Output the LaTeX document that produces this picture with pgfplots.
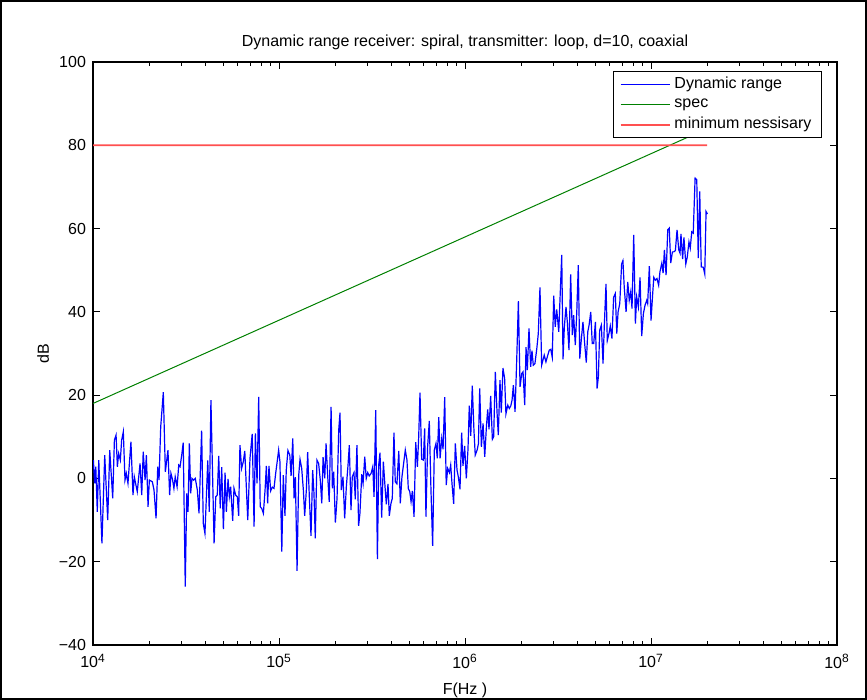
\documentclass[border=0pt]{standalone}
\usepackage{fontspec}
\setmainfont{Liberation Sans}
\usepackage{pgfplots}
\pgfplotsset{compat=1.18}
\usepackage{pgfplotstable}

% e = log10(frequency in Hz), db = dynamic range in dB
\pgfplotstableread{
e db
4.002 4.4
4.009 -1.2
4.015 2.8
4.023 -8.0
4.031 4.4
4.048 -15.6
4.063 5.6
4.079 -10.0
4.090 6.8
4.106 -4.8
4.115 9.2
4.124 10.4
4.131 2.8
4.138 6.0
4.147 4.4
4.154 9.2
4.163 11.2
4.172 -0.4
4.179 1.2
4.188 -1.2
4.204 8.8
4.215 -4.0
4.222 0.4
4.238 -3.2
4.253 3.6
4.262 -4.0
4.270 6.4
4.280 -0.4
4.287 5.6
4.296 -6.8
4.303 -0.4
4.319 -0.8
4.328 -2.8
4.339 -9.6
4.348 2.8
4.355 -0.4
4.364 12.4
4.378 20.7
4.389 1.6
4.403 6.8
4.412 -4.0
4.419 1.2
4.428 -0.4
4.435 -2.4
4.442 0.4
4.452 -2.0
4.461 3.2
4.468 2.8
4.477 5.6
4.485 8.6
4.496 -26.0
4.504 -3.6
4.511 -8.0
4.518 8.4
4.525 -3.6
4.532 0.0
4.541 -0.4
4.550 0.0
4.561 -2.8
4.570 -8.4
4.584 11.5
4.593 -10.8
4.602 -13.2
4.617 4.3
4.625 -8.0
4.634 18.8
4.651 -15.6
4.660 -4.4
4.668 -4.0
4.676 5.4
4.684 -7.2
4.692 2.7
4.701 -12.2
4.710 1.4
4.717 -8.0
4.726 -0.1
4.733 -4.4
4.740 -2.0
4.751 -10.2
4.758 -2.4
4.767 -4.0
4.776 -4.4
4.783 -9.0
4.790 8.0
4.799 2.4
4.808 4.0
4.816 6.6
4.832 -10.0
4.844 4.8
4.856 10.7
4.866 -11.6
4.873 10.8
4.882 -1.2
4.891 19.6
4.899 -6.8
4.907 -7.2
4.916 -8.4
4.925 -2.8
4.932 3.0
4.939 -6.0
4.946 3.0
4.955 -3.0
4.964 -2.1
4.973 -2.4
4.982 1.2
4.989 3.6
4.998 6.8
5.005 4.0
5.015 -17.6
5.023 0.8
5.032 -9.0
5.039 2.0
5.048 6.7
5.058 5.6
5.065 0.6
5.074 9.6
5.081 -4.8
5.088 0.3
5.097 -22.2
5.106 0.8
5.113 4.6
5.122 2.4
5.131 -2.8
5.138 -9.0
5.147 -2.8
5.154 6.3
5.163 -4.4
5.172 -13.8
5.181 2.0
5.188 -3.6
5.195 -14.4
5.204 4.4
5.213 3.6
5.222 -0.4
5.230 -6.0
5.237 5.1
5.246 0.0
5.253 8.4
5.262 0.4
5.270 -5.6
5.280 17.2
5.287 -2.4
5.294 1.6
5.303 -10.6
5.312 -4.8
5.321 11.6
5.328 15.8
5.335 -2.8
5.344 0.4
5.353 -9.6
5.362 -2.0
5.371 3.2
5.378 8.0
5.387 -7.6
5.394 0.4
5.403 1.4
5.410 -5.0
5.419 8.0
5.428 -11.4
5.435 -8.4
5.445 1.0
5.452 -1.2
5.461 5.2
5.469 0.0
5.477 1.4
5.485 0.6
5.495 1.2
5.504 2.8
5.511 -4.4
5.520 16.4
5.529 -19.4
5.536 3.2
5.543 6.2
5.552 -9.4
5.561 4.0
5.570 -2.0
5.577 -6.2
5.586 -1.3
5.593 -9.0
5.602 -6.0
5.609 -4.8
5.618 11.0
5.625 -0.8
5.634 -1.3
5.644 6.6
5.652 -6.0
5.661 0.4
5.670 3.6
5.679 6.8
5.688 4.4
5.695 -2.4
5.703 -3.2
5.710 -5.6
5.717 -3.0
5.726 -9.2
5.735 8.7
5.744 2.8
5.751 10.0
5.758 20.6
5.767 4.6
5.776 4.4
5.783 12.0
5.790 -9.2
5.799 7.6
5.808 13.8
5.817 -2.8
5.826 -16.2
5.835 6.8
5.844 8.4
5.851 4.8
5.859 14.7
5.866 4.8
5.875 9.6
5.882 7.0
5.891 19.5
5.899 -1.6
5.907 2.4
5.916 1.4
5.923 3.2
5.930 -1.2
5.939 -6.1
5.948 8.4
5.957 2.0
5.964 0.4
5.973 -2.6
5.982 11.0
5.989 3.0
5.998 7.8
6.007 0.0
6.016 7.0
6.023 17.5
6.031 10.2
6.039 22.3
6.048 11.6
6.055 5.6
6.065 6.8
6.072 8.3
6.079 21.6
6.088 7.6
6.097 13.2
6.106 5.2
6.115 12.4
6.122 16.6
6.129 11.8
6.138 19.8
6.147 9.4
6.154 10.0
6.163 25.6
6.172 16.0
6.179 10.4
6.188 23.6
6.195 15.8
6.204 26.5
6.213 24.0
6.220 15.5
6.230 17.6
6.238 16.8
6.246 17.4
6.253 18.8
6.260 22.4
6.269 16.0
6.278 28.4
6.287 42.6
6.296 22.0
6.305 25.2
6.312 25.6
6.321 17.6
6.328 31.5
6.335 26.0
6.344 36.0
6.353 26.8
6.360 30.7
6.367 27.2
6.376 27.6
6.386 31.2
6.394 34.8
6.403 45.9
6.412 27.2
6.419 28.4
6.426 29.6
6.435 28.0
6.445 29.6
6.453 30.8
6.461 31.0
6.469 29.1
6.477 43.9
6.485 36.4
6.493 40.6
6.504 35.2
6.511 43.3
6.520 53.7
6.527 28.6
6.534 36.4
6.543 41.2
6.550 37.6
6.559 30.8
6.568 49.0
6.577 34.4
6.584 39.2
6.593 32.0
6.601 40.0
6.609 51.2
6.617 28.8
6.625 33.2
6.634 37.6
6.644 32.0
6.652 27.8
6.660 35.2
6.667 36.8
6.676 40.0
6.684 32.4
6.692 32.4
6.701 37.6
6.710 21.6
6.717 24.4
6.724 35.6
6.733 36.8
6.742 27.6
6.749 36.8
6.758 46.7
6.765 33.1
6.774 34.8
6.781 36.6
6.790 33.6
6.799 43.5
6.808 44.4
6.816 34.8
6.823 40.0
6.832 42.0
6.842 51.5
6.849 52.3
6.856 46.0
6.866 40.0
6.875 47.2
6.883 42.8
6.891 44.8
6.898 40.8
6.907 58.5
6.916 37.2
6.923 43.6
6.932 41.2
6.941 48.3
6.950 34.2
6.959 39.6
6.968 41.6
6.977 42.8
6.982 42.0
6.991 51.0
7.000 37.9
7.009 44.4
7.015 48.3
7.023 47.6
7.032 48.0
7.041 46.4
7.048 49.6
7.058 51.7
7.065 49.3
7.072 54.9
7.081 48.8
7.090 59.7
7.098 60.1
7.106 51.7
7.115 54.4
7.122 54.4
7.131 54.7
7.140 59.7
7.149 54.9
7.156 54.1
7.161 58.7
7.170 52.7
7.177 57.9
7.187 51.5
7.195 53.2
7.204 56.8
7.211 55.3
7.219 59.2
7.227 58.9
7.237 72.1
7.246 71.7
7.254 52.9
7.262 68.9
7.270 50.8
7.281 50.7
7.289 49.1
7.296 64.1
7.303 63.5
}\dynrange

\definecolor{mred}{RGB}{255,80,80}

\begin{document}
\begin{tikzpicture}
\path[use as bounding box] (-46.5pt,-27.5pt) rectangle (387pt,322.5pt);
\begin{axis}[
  at={(0pt,0pt)}, anchor=south west,
  scale only axis, width=372pt, height=291.5pt,
  xmode=log, xmin=1e4, xmax=1e8, ymin=-40, ymax=100,
  xtick={1e4,1e5,1e6,1e7,1e8},
  xticklabels={10\textsuperscript{4},10\textsuperscript{5},10\textsuperscript{6},10\textsuperscript{7},10\textsuperscript{8}},
  ytick={-40,-20,0,20,40,60,80,100},
  yticklabels={−40,−20,0,20,40,60,80,100},
  tick align=inside,
  major tick length=3.5pt, minor tick length=2pt,
  axis line style={line width=0.7pt},
  every tick/.style={black, line width=0.4pt},
  font=\fontsize{8}{9.6}\selectfont,
  xticklabel style={yshift=-1pt},
  title={Dynamic range receiver: spiral, transmitter: loop, d=10, coaxial},
  title style={yshift=-3.5pt},
  xlabel={F(Hz )}, ylabel={dB},
  xlabel style={yshift=-0.5pt},
  ylabel style={yshift=-2pt},
  legend style={at={(rel axis cs:0.9798,0.9846)}, anchor=north east,
    draw=black, line width=0.6pt, fill=white,
    font=\fontsize{8}{9.6}\selectfont, inner xsep=3pt, inner ysep=0.8pt,
    row sep=-0.5pt, cells={anchor=west}},
  legend image code/.code={\draw[#1] (0pt,0pt) -- (24.5pt,0pt);},
  legend cell align=left,
]
\addplot[color={rgb,255:red,0;green,0;blue,255}, line width=0.6pt] table[x expr={10^(\thisrow{e})}, y=db] {\dynrange};
\addlegendentry{Dynamic range}
\addplot[color={rgb,255:red,0;green,128;blue,0}, line width=0.5pt] coordinates {(1e4,18) (2e7,84)};
\addlegendentry{spec}
\addplot[draw=mred, line width=0.9pt] coordinates {(1e4,80) (2e7,80.001)};
\addlegendentry{minimum nessisary}
\end{axis}
\draw[line width=1pt] (-46pt,-27pt) rectangle (386.5pt,322pt);
\end{tikzpicture}
\end{document}
